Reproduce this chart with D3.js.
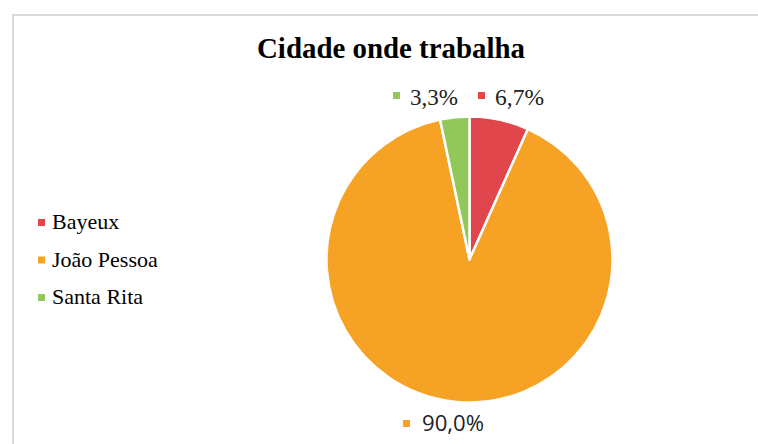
<!DOCTYPE html>
<html>
<head>
<meta charset="utf-8">
<script src="https://cdn.jsdelivr.net/npm/d3@7"></script>
<style>
  body { margin: 0; background: #fff; }
  svg text { font-family: "Liberation Serif", "Times New Roman", serif; fill: #000; }
</style>
</head>
<body>
<div id="chart"></div>
<script>
// Chart data
const cities = ["Bayeux", "João Pessoa", "Santa Rita"];
const shares = [6.7, 90.0, 3.3];
const colors = ["#E0464B", "#F5A225", "#92C85A"];
const labels = ["6,7%", "90,0%", "3,3%"];

const width = 758, height = 444;

const svg = d3.select("#chart").append("svg")
    .attr("width", width)
    .attr("height", height);

// Chart frame (runs off the right and bottom edges)
svg.append("rect")
    .attr("x", 13)
    .attr("y", 15)
    .attr("width", width)
    .attr("height", height)
    .attr("fill", "none")
    .attr("stroke", "#d9d9d9")
    .attr("stroke-width", 2);

// Title
svg.append("text")
    .attr("x", 391)
    .attr("y", 58)
    .attr("text-anchor", "middle")
    .attr("textLength", 268)
    .attr("lengthAdjust", "spacingAndGlyphs")
    .style("font-size", "29px")
    .style("font-weight", "bold")
    .text("Cidade onde trabalha");

// Pie
const cx = 469.5, cy = 259.5, radius = 143;
const pie = d3.pie().sort(null).value(d => d)(shares);
const arc = d3.arc().innerRadius(0).outerRadius(radius);

const g = svg.append("g").attr("transform", `translate(${cx},${cy})`);
g.selectAll("path")
    .data(pie)
    .join("path")
    .attr("d", arc)
    .attr("fill", (d, i) => colors[i])
    .attr("stroke", "#fff")
    .attr("stroke-width", 2.5)
    .attr("stroke-linejoin", "round");

// Data labels (positioned beside the pie)
const labelPos = [
  { x: 478, y: 105, len: 49, sans: false },   // Bayeux
  { x: 403, y: 431, len: 62, sans: true },    // João Pessoa
  { x: 393, y: 105, len: 48, sans: false }    // Santa Rita
];
const lab = svg.append("g").selectAll("g")
    .data(pie)
    .join("g")
    .attr("transform", (d, i) => `translate(${labelPos[i].x},${labelPos[i].y})`);
lab.append("rect")
    .attr("x", 0)
    .attr("y", (d, i) => labelPos[i].sans ? -11 : -13)
    .attr("width", 7)
    .attr("height", 7)
    .attr("fill", (d, i) => colors[i]);
lab.append("text")
    .attr("x", (d, i) => labelPos[i].sans ? 19 : 17)
    .attr("y", 0)
    .attr("textLength", (d, i) => labelPos[i].len)
    .attr("lengthAdjust", "spacingAndGlyphs")
    .style("font-size", (d, i) => labelPos[i].sans ? "21px" : "23px")
    .style("font-family", (d, i) => labelPos[i].sans ? "'Open Sans', 'Noto Sans', sans-serif" : null)
    .style("fill", "#222")
    .text((d, i) => labels[i]);

// Legend
const legend = svg.append("g").selectAll("g")
    .data(cities)
    .join("g")
    .attr("transform", (d, i) => `translate(38,${229 + i * 37.5})`);
legend.append("rect")
    .attr("x", 0)
    .attr("y", -10)
    .attr("width", 7)
    .attr("height", 7)
    .attr("fill", (d, i) => colors[i]);
legend.append("text")
    .attr("x", 14)
    .attr("y", 0)
    .style("font-size", "22px")
    .text(d => d);
</script>
</body>
</html>
